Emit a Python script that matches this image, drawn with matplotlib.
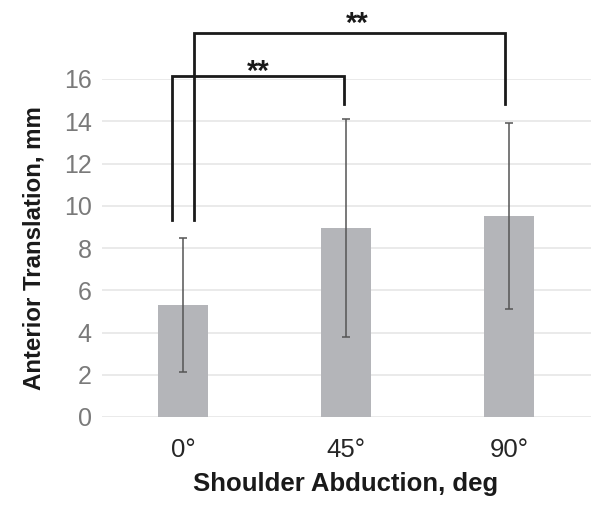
import matplotlib
matplotlib.use("Agg")
import matplotlib.pyplot as plt

categories = ["0°", "45°", "90°"]
means = [5.3, 8.95, 9.5]
sds = [3.15, 5.17, 4.4]
y_ticks = [0, 2, 4, 6, 8, 10, 12, 14, 16]

# significance brackets: (x_left, x_right, y_left_bottom, y_right_bottom, y_top, label)
brackets = [
    (-0.067, 0.987, 9.33, 14.82, 16.14, "**"),
    (0.067, 1.975, 9.33, 14.82, 18.18, "**"),
]
star_pos = [(0.46, 16.35), (1.07, 18.6)]

plt.rcParams['font.family'] = ['Liberation Sans', 'DejaVu Sans']

fig = plt.figure(figsize=(5.91, 5.08), dpi=100)
ax = fig.add_axes([101.5 / 591, 91 / 508, 489 / 591, 338 / 508])

x = list(range(len(categories)))
ax.bar(x, means, width=0.31, color="#b4b5b9", zorder=2)
ax.errorbar(x, means, yerr=sds, fmt="none", ecolor="#555555", elinewidth=1.1,
            capsize=3, capthick=1.1, zorder=3)

ax.set_xlim(-0.5, 2.5)
ax.set_ylim(0, 16)
ax.set_yticks(y_ticks)
ax.set_xticks(x)
ax.set_xticklabels(categories, fontsize=18.5, color="#262626")
ax.tick_params(axis="y", labelsize=18, labelcolor="#7a7a7a", length=0, pad=7)
ax.tick_params(axis="x", length=0, pad=15)
ax.yaxis.grid(True, color="#e6e6e6", linewidth=1.2, zorder=0)
ax.set_axisbelow(True)
for s in ax.spines.values():
    s.set_visible(False)

ax.set_ylabel("Anterior Translation, mm", fontsize=17.3, fontweight="bold",
              color="#1a1a1a", labelpad=13)
ax.set_xlabel("Shoulder Abduction, deg", fontsize=18.5, fontweight="bold",
              color="#1a1a1a", labelpad=7)

for (xl, xr, yl, yr, yt, lab) in brackets:
    ax.plot([xl, xl, xr, xr], [yl, yt, yt, yr], color="#1a1a1a", lw=2,
            clip_on=False, zorder=4, solid_joinstyle="miter")
for (xl, xr, yl, yr, yt, lab), (sx, sy) in zip(brackets, star_pos):
    ax.text(sx, sy, lab, ha="center", va="center", fontsize=21, fontweight="bold",
            color="#1a1a1a", clip_on=False)

fig.savefig("out.png", dpi=100)
